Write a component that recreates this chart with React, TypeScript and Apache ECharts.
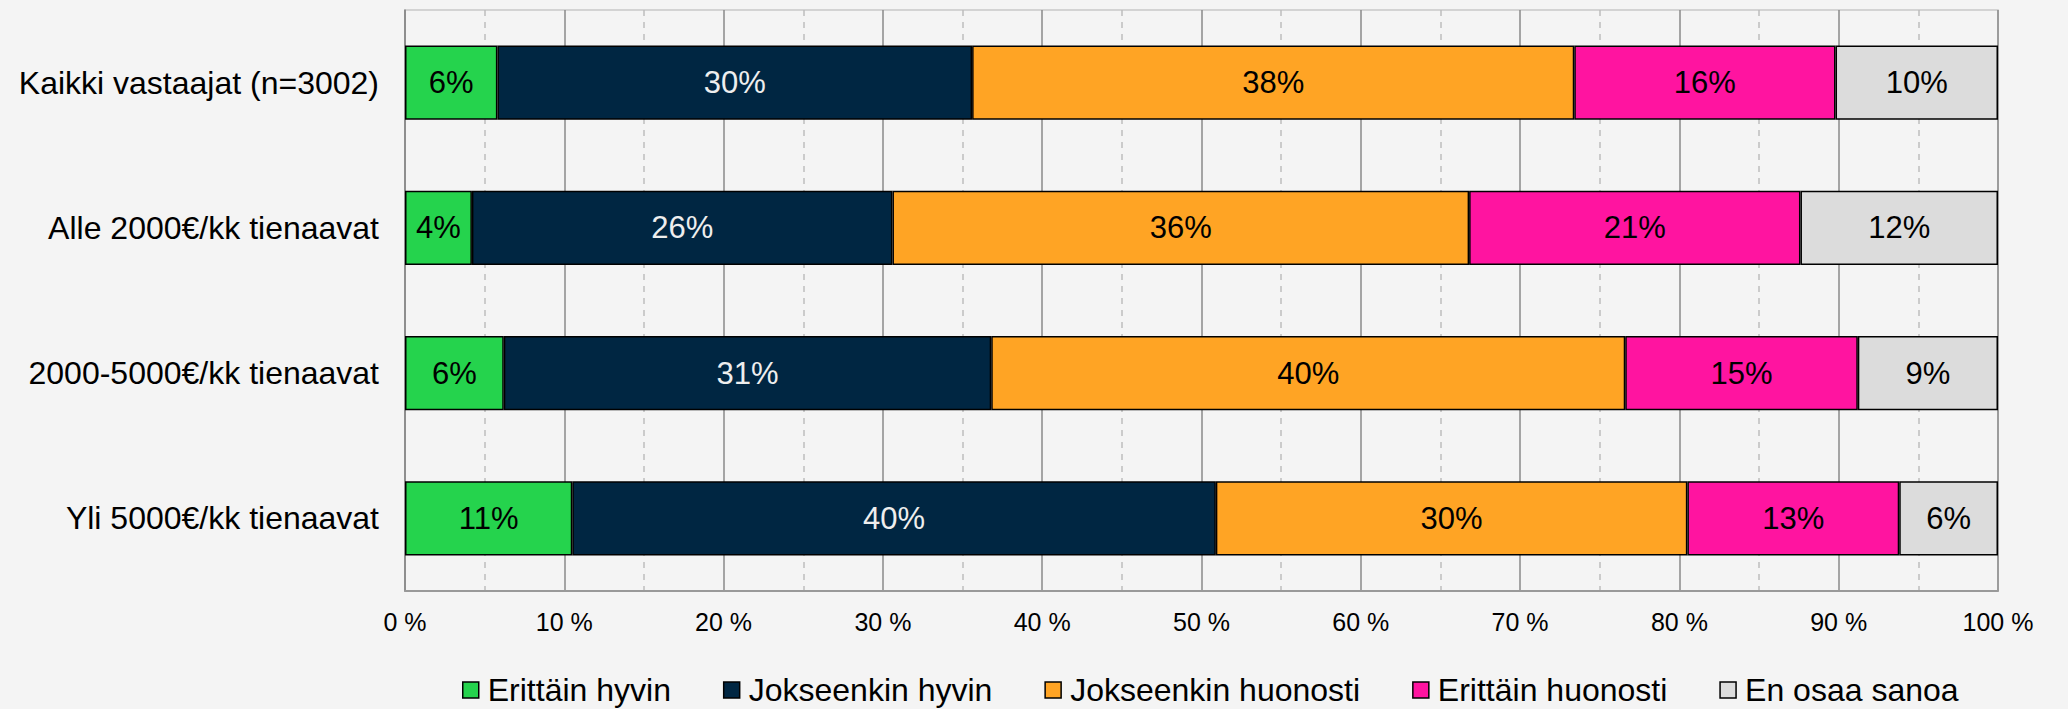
import React, { useEffect, useRef } from "react";
import * as echarts from "echarts";

const categories = [
  "Kaikki vastaajat (n=3002)",
  "Alle 2000€/kk tienaavat",
  "2000-5000€/kk tienaavat",
  "Yli 5000€/kk tienaavat",
];

const seriesNames = [
  "Erittäin hyvin",
  "Jokseenkin hyvin",
  "Jokseenkin huonosti",
  "Erittäin huonosti",
  "En osaa sanoa",
];

const erittainHyvin = [5.8, 4.2, 6.2, 10.5];
const jokseenkinHyvin = [29.8, 26.4, 30.6, 40.4];
const jokseenkinHuonosti = [37.8, 36.2, 39.8, 29.6];
const erittainHuonosti = [16.4, 20.8, 14.6, 13.3];
const enOsaaSanoa = [10.2, 12.4, 8.8, 6.2];

const seriesValues = [
  erittainHyvin,
  jokseenkinHyvin,
  jokseenkinHuonosti,
  erittainHuonosti,
  enOsaaSanoa,
];

const colors = ["#25d34d", "#002642", "#ffa424", "#ff14a0", "#dcdcdc"];
const labelColors = ["#000000", "#eeeeee", "#000000", "#000000", "#000000"];

const xTicks = [0, 10, 20, 30, 40, 50, 60, 70, 80, 90, 100];

const FONT = "'Liberation Sans', Arial, sans-serif";

export default function App() {
  const ref = useRef<HTMLDivElement>(null);

  useEffect(() => {
    document.body.style.margin = "0";
    document.body.style.background = "#f4f4f4";
    if (!ref.current) return;
    const chart = echarts.init(ref.current, null, { renderer: "svg" });
    chart.setOption({
      animation: false,
      backgroundColor: "#f4f4f4",
      textStyle: { fontFamily: FONT },
      grid: {
        left: 405,
        right: 70,
        top: 10,
        bottom: 118,
        show: true,
        borderColor: "#c8c8c8",
        borderWidth: 1.5,
        backgroundColor: "transparent",
      },
      legend: {
        data: seriesNames,
        left: 457,
        top: 668,
        itemWidth: 16,
        itemHeight: 16,
        itemGap: 52,
        icon: "rect",
        itemStyle: { borderColor: "#000", borderWidth: 1.5 },
        textStyle: {
          fontSize: 32,
          lineHeight: 34,
          color: "#000",
          fontFamily: FONT,
          padding: [0, 0, 0, 4],
        },
      },
      xAxis: {
        type: "value",
        min: xTicks[0],
        max: xTicks[xTicks.length - 1],
        interval: 10,
        axisLine: { show: true, lineStyle: { color: "#999", width: 2 } },
        axisTick: { show: false },
        axisLabel: {
          formatter: (v: number) => `${v} %`,
          fontSize: 25,
          color: "#000",
          margin: 18,
          fontFamily: FONT,
        },
        splitLine: { show: true, lineStyle: { color: "#8a8a8a", width: 1.5 } },
        minorTick: { show: false, splitNumber: 2 },
        minorSplitLine: {
          show: true,
          lineStyle: { color: "#bdbdbd", width: 1.5, type: [6, 6] },
        },
      },
      yAxis: {
        type: "category",
        data: categories,
        inverse: true,
        axisLine: { show: true, lineStyle: { color: "#8a8a8a", width: 1.5 } },
        axisTick: { show: false },
        axisLabel: {
          fontSize: 32,
          color: "#000",
          margin: 26,
          fontFamily: FONT,
        },
        splitLine: { show: false },
      },
      series: seriesNames.map((name, i) => ({
        name,
        type: "bar",
        stack: "total",
        barWidth: "51%",
        data: seriesValues[i],
        itemStyle: {
          color: colors[i],
          borderColor: "#000",
          borderWidth: 1.5,
        },
        label: {
          show: true,
          position: "inside",
          formatter: (p: any) => `${Math.round(p.value)}%`,
          fontSize: 31,
          color: labelColors[i],
          fontFamily: FONT,
        },
      })),
    });
    return () => chart.dispose();
  }, []);

  return <div ref={ref} style={{ width: 2068, height: 709 }} />;
}
